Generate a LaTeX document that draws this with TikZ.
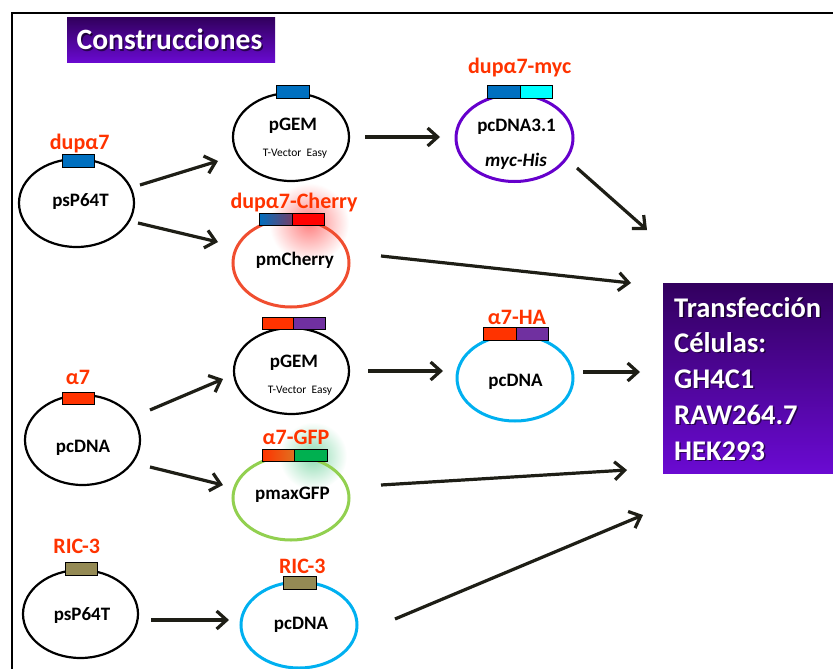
\documentclass[tikz,border=0pt]{standalone}
\usepackage{fontspec}
\setmainfont{Carlito}
\usetikzlibrary{shapes.geometric,arrows.meta}
\definecolor{labred}{HTML}{FF3300}
\definecolor{insblue}{HTML}{0070C0}
\definecolor{inscyan}{HTML}{00FFFF}
\definecolor{insred}{HTML}{FF3300}
\definecolor{cherryred}{HTML}{FF0000}
\definecolor{inspurple}{HTML}{7030A0}
\definecolor{insgreen}{HTML}{00B050}
\definecolor{inskhaki}{HTML}{948A54}
\definecolor{insorange}{HTML}{E07020}
\definecolor{cherrycol}{HTML}{F04E30}
\definecolor{mycpurple}{HTML}{6600CC}
\definecolor{gfpgreen}{HTML}{92D050}
\definecolor{pcdnablue}{HTML}{00B0F0}
\definecolor{arrcol}{HTML}{1E1E16}
\definecolor{boxtop}{HTML}{32005E}
\definecolor{boxbot}{HTML}{6A0AD2}
\begin{document}
\begin{tikzpicture}[x=1pt,y=-1pt,
  plas/.style={ellipse, draw, line width=2.2pt, inner sep=0pt},
  cplas/.style={plas, line width=3pt},
  ins/.style={draw=black, line width=0.8pt, inner sep=0pt},
  lab/.style={text=labred, font=\fontsize{22}{24}\selectfont\bfseries, inner sep=0pt, anchor=base},
  nm/.style={font=\fontsize{19}{21}\selectfont\bfseries, inner sep=0pt, anchor=base},
  smalltxt/.style={font=\fontsize{11.5}{13}\selectfont, inner sep=0pt, anchor=base},
  boxtxt/.style={text=white, font=\fontsize{28.5}{30}\selectfont\bfseries, inner sep=0pt, anchor=base west},
  boxshadow/.style={text=black, opacity=0.55, font=\fontsize{28.5}{30}\selectfont\bfseries, inner sep=0pt, anchor=base west},
  arr/.style={-{Straight Barb[length=10pt,width=18pt]}, line width=3.2pt, draw=arrcol},
]
\useasboundingbox (0,0) rectangle (833,669);
\draw[line width=2pt] (12,669) -- (12,13) -- (833,13);

% title
\node[top color=boxtop, bottom color=boxbot, minimum width=208pt, minimum height=45pt, inner sep=0pt] (title) at (171,40.5) {};
\node[text=black, opacity=0.55, font=\fontsize{29.5}{31}\selectfont\bfseries, inner sep=0pt, anchor=base] (titlesh) at (171,51.5) {Construcciones};
\node[text=white, font=\fontsize{29.5}{31}\selectfont\bfseries, inner sep=0pt, anchor=base] (titletxt) at (169.5,50) {Construcciones};

% transfection box
\node[top color=boxtop, bottom color=boxbot, minimum width=170pt, minimum height=190pt, inner sep=0pt] (transf) at (748,378) {};
\foreach \t/\b [count=\i] in {Transfección/317, Células:/352, GH4C1/388, RAW264.7/424, HEK293/460}{
  \node[boxshadow] (tsh\i) at (675.5,\b+1.5) {\t};
  \node[boxtxt] (tt\i) at (674,\b) {\t};
}

% glows
\shade[inner color=cherryred!50, outer color=white] (309,223) circle (40);
\shade[inner color=insgreen!45, outer color=white] (313,456) circle (34);

% plasmids
\node[plas, minimum width=115pt, minimum height=88pt] (e1) at (76.5,203) {};
\node[plas, minimum width=116pt, minimum height=88pt] (e2) at (291,137) {};
\node[cplas, draw=cherrycol, minimum width=116pt, minimum height=88pt] (e3) at (291,263) {};
\node[cplas, draw=mycpurple, minimum width=117pt, minimum height=87pt] (e4) at (514.5,138) {};
\node[plas, minimum width=115pt, minimum height=86pt] (e5) at (291.5,371) {};
\node[plas, minimum width=115pt, minimum height=90pt] (e6) at (82.5,440) {};
\node[cplas, draw=gfpgreen, minimum width=116pt, minimum height=84pt] (e7) at (291,498) {};
\node[plas, minimum width=115pt, minimum height=88pt] (e8) at (80.5,614) {};
\node[cplas, draw=pcdnablue, minimum width=116pt, minimum height=86pt] (e9) at (299,625) {};
\node[cplas, draw=pcdnablue, minimum width=116pt, minimum height=86pt] (e10) at (515,378) {};

% names
\node[nm] (n1) at (80.5,206) {psP64T};
\node[nm] (n2) at (293,130) {pGEM};
\node[smalltxt] (n2b) at (295,156) {T-Vector\ \ Easy};
\node[nm] (n3) at (295,265) {pmCherry};
\node[nm] (n4) at (516.5,131) {pcDNA3.1};
\node[nm, font=\fontsize{19}{21}\selectfont\bfseries\itshape] (n4b) at (516,166) {myc-His};
\node[nm] (n5) at (294,367) {pGEM};
\node[smalltxt] (n5b) at (300,393) {T-Vector\ \ Easy};
\node[nm] (n6) at (83,452) {pcDNA};
\node[nm] (n7) at (292.5,499) {pmaxGFP};
\node[nm] (n8) at (82,620.5) {psP64T};
\node[nm] (n9) at (301,629) {pcDNA};
\node[nm] (n10) at (515.5,386) {pcDNA};

% labels
\node[lab] (l1) at (79.7,149) {dupα7};
\node[lab] (l3) at (294,208) {dupα7-Cherry};
\node[lab] (l4) at (519.7,74) {dupα7-myc};
\node[lab] (l6) at (78,384) {α7};
\node[lab] (l7) at (296,444) {α7-GFP};
\node[lab] (l8) at (76.7,553) {RIC-3};
\node[lab] (l9) at (302.3,573) {RIC-3};
\node[lab] (l10) at (517,324) {α7-HA};

% inserts
\node[ins, fill=insblue, minimum width=32pt, minimum height=13pt] (r1) at (78,160.5) {};
\node[ins, fill=insblue, minimum width=33pt, minimum height=13pt] (r2) at (292.5,91.5) {};
\node[ins, left color=insblue, right color=insblue!55!cherryred, minimum width=33pt, minimum height=12pt] (r3a) at (275.5,219) {};
\node[ins, fill=cherryred, minimum width=32pt, minimum height=12pt] (r3b) at (308,219) {};
\node[ins, fill=insblue, minimum width=33pt, minimum height=13pt] (r4a) at (503.5,91.5) {};
\node[ins, fill=inscyan, minimum width=32pt, minimum height=13pt] (r4b) at (536,91.5) {};
\node[ins, fill=insred, minimum width=31pt, minimum height=12pt] (r5a) at (277.5,323) {};
\node[ins, fill=inspurple, minimum width=32pt, minimum height=12pt] (r5b) at (309,323) {};
\node[ins, fill=insred, minimum width=32pt, minimum height=12pt] (r6) at (78,398) {};
\node[ins, left color=insred, right color=insorange, minimum width=32pt, minimum height=12pt] (r7a) at (278,455) {};
\node[ins, fill=insgreen, minimum width=33pt, minimum height=12pt] (r7b) at (310.5,455) {};
\node[ins, fill=inskhaki, minimum width=32pt, minimum height=13pt] (r8) at (81,568.5) {};
\node[ins, fill=inskhaki, minimum width=33pt, minimum height=13pt] (r9) at (299.5,582.5) {};
\node[ins, fill=insred, minimum width=33pt, minimum height=13pt] (r10a) at (499.5,333.5) {};
\node[ins, fill=inspurple, minimum width=32pt, minimum height=13pt] (r10b) at (532,333.5) {};

% arrow end points
\coordinate (s1) at (140,185);  \coordinate (t1) at (218,161);
\coordinate (s2) at (138,223);  \coordinate (t2) at (218,242);
\coordinate (s3) at (365,137);  \coordinate (t3) at (440,137);
\coordinate (s4) at (577,168);  \coordinate (t4) at (647,230);
\coordinate (s5) at (381,256);  \coordinate (t5) at (631,283);
\coordinate (s6) at (150,410);  \coordinate (t6) at (223,379);
\coordinate (s7) at (150,467);  \coordinate (t7) at (223,485);
\coordinate (s8) at (368,371);  \coordinate (t8) at (443,371);
\coordinate (s9) at (583,372);  \coordinate (t9) at (640,372);
\coordinate (s10) at (381,485); \coordinate (t10) at (627,470);
\coordinate (s11) at (395,619); \coordinate (t11) at (643,515);
\coordinate (s12) at (151,620); \coordinate (t12) at (229,620);
\foreach \i in {1,...,12}{
  \draw[arr] (s\i) -- (t\i);
}
\end{tikzpicture}
\end{document}
